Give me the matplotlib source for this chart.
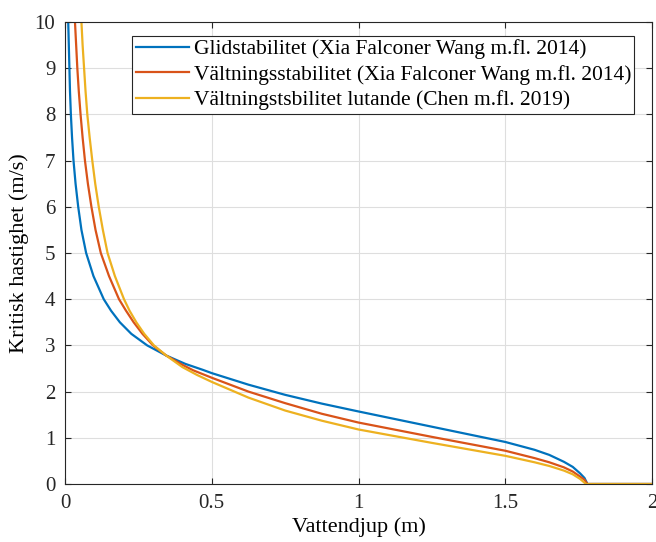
import numpy as np
import matplotlib
matplotlib.use('Agg')
import matplotlib.pyplot as plt

plt.rcParams['font.family'] = ['Liberation Serif', 'DejaVu Serif']

# values (depth in m, critical speed in m/s)
glid_x = [0.011, 0.013, 0.015, 0.017, 0.020, 0.024, 0.029, 0.036, 0.045, 0.056, 0.072, 0.097,
          0.132, 0.157, 0.187, 0.226, 0.280, 0.345, 0.41, 0.47, 0.5, 0.625, 0.75, 0.875,
          1.0, 1.25, 1.5, 1.6, 1.65, 1.7, 1.73, 1.755, 1.77, 1.78, 2.0]
glid_y = [10, 9.5, 9, 8.5, 8, 7.5, 7, 6.5, 6, 5.5, 5, 4.5,
          4, 3.75, 3.5, 3.25, 3.0, 2.78, 2.60, 2.47, 2.40, 2.15, 1.93, 1.74,
          1.57, 1.24, 0.91, 0.74, 0.63, 0.48, 0.37, 0.23, 0.13, 0.0, 0.0]

valt_x = [0.034, 0.038, 0.042, 0.047, 0.053, 0.060, 0.068, 0.078, 0.090, 0.104, 0.122, 0.150,
          0.184, 0.208, 0.234, 0.264, 0.300, 0.345, 0.40, 0.437, 0.5, 0.625, 0.75, 0.875,
          1.0, 1.25, 1.5, 1.6, 1.65, 1.7, 1.73, 1.755, 1.77, 1.78, 2.0]
valt_y = [10, 9.5, 9, 8.5, 8, 7.5, 7, 6.5, 6, 5.5, 5, 4.5,
          4, 3.75, 3.5, 3.25, 3.0, 2.78, 2.58, 2.46, 2.30, 2.00, 1.75, 1.52,
          1.33, 1.02, 0.72, 0.56, 0.47, 0.36, 0.27, 0.16, 0.09, 0.0, 0.0]

lut_x = [0.056, 0.060, 0.065, 0.070, 0.076, 0.084, 0.093, 0.103, 0.115, 0.129, 0.145, 0.170,
         0.201, 0.220, 0.243, 0.270, 0.303, 0.345, 0.40, 0.45, 0.5, 0.625, 0.75, 0.875,
         1.0, 1.25, 1.5, 1.6, 1.65, 1.7, 1.73, 1.755, 1.775, 2.0]
lut_y = [10, 9.5, 9, 8.5, 8, 7.5, 7, 6.5, 6, 5.5, 5, 4.5,
         4, 3.75, 3.5, 3.25, 3.0, 2.78, 2.53, 2.36, 2.21, 1.87, 1.59, 1.37,
         1.18, 0.89, 0.61, 0.47, 0.39, 0.29, 0.21, 0.11, 0.0, 0.0]

labels = ['Glidstabilitet (Xia Falconer Wang m.fl. 2014)',
          'Vältningsstabilitet (Xia Falconer Wang m.fl. 2014)',
          'Vältningstsbilitet lutande (Chen m.fl. 2019)']
colors = ['#0072BD', '#D95319', '#EDB120']

fig = plt.figure(figsize=(6.56, 5.42), dpi=100)
ax = fig.add_axes([65/656, 58/542, 587/656, 462/542])

ax.plot(glid_x, glid_y, color=colors[0], lw=1.6, label=labels[0])
ax.plot(valt_x, valt_y, color=colors[1], lw=1.6, label=labels[1])
ax.plot(lut_x, lut_y, color=colors[2], lw=1.6, label=labels[2])

ax.set_xlim(0, 2)
ax.set_ylim(0, 10)
ax.set_xticks([0, 0.5, 1, 1.5, 2])
ax.set_xticklabels(['0', '0.5', '1', '1.5', '2'])
ax.set_yticks(range(0, 11))
ax.grid(True, color='#dedede', lw=0.8)
ax.set_axisbelow(True)
ax.tick_params(direction='in', top=True, right=True, labelsize=15, length=4, width=0.8,
               colors='#262626', pad=7)
for s in ax.spines.values():
    s.set_color('#262626')
    s.set_linewidth(0.8)

ax.set_xlabel('Vattendjup (m)', fontsize=16, labelpad=3)
ax.set_ylabel('Kritisk hastighet (m/s)', fontsize=16, labelpad=4)

leg = ax.legend(loc='upper right', bbox_to_anchor=(0.97, 0.97), fontsize=15.5, fancybox=False,
                edgecolor='#262626', framealpha=1, handlelength=2.5, borderpad=0.15,
                labelspacing=0.26, handletextpad=0.2, borderaxespad=0)
leg.get_frame().set_linewidth(0.8)

fig.savefig('out.png', dpi=100)
